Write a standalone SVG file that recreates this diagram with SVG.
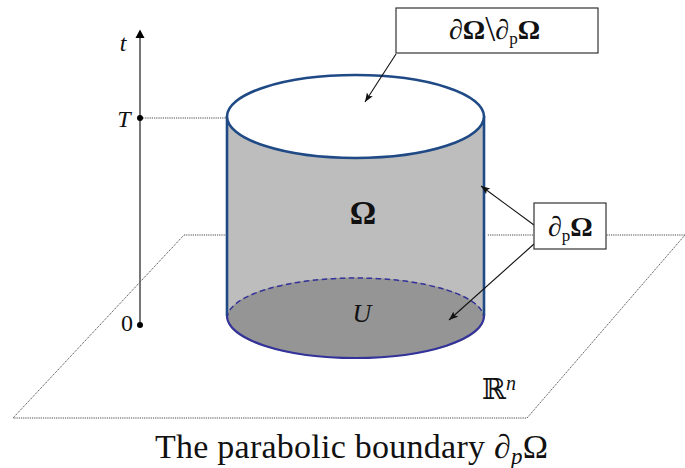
<svg xmlns="http://www.w3.org/2000/svg" width="685" height="468" viewBox="0 0 685 468">
<style>
text{font-family:"Liberation Serif","DejaVu Serif",serif;fill:#111}
.i{font-style:italic}
.dot{fill:none;stroke:#333;stroke-width:.9;stroke-dasharray:1.2 1}
.ar{fill:none;stroke:#111;stroke-width:1.100;marker-end:url(#a)}
.box{fill:#fff;stroke:#333;stroke-width:1.200}
</style>
<defs>
<marker id="a" markerUnits="userSpaceOnUse" markerWidth="10" markerHeight="8" refX="9" refY="3.500" orient="auto"><path d="M0 0L9 3.500L0 7L2 3.500Z" fill="#111"/></marker>
</defs>
<g id="plane"><path class="dot" d="M227 235H184L13 418H527L685 235H487"/></g>
<g id="cylinder">
<path d="M227 116V316A128.500 41 0 0 0 484 316V116Z" fill="#bdbdbd"/>
<ellipse cx="355.500" cy="318" rx="128.500" ry="40.500" fill="#959595"/>
<path d="M227 316V116M484 116V316" fill="none" stroke="#1f4a85" stroke-width="2.600"/>
<path d="M227 318.500A128.500 40.500 0 0 1 484 318.500" fill="none" stroke="#33339a" stroke-width="1.500" stroke-dasharray="5.500 3.500"/>
<path d="M227 316A128.500 42 0 0 0 484 316" fill="none" stroke="#33339a" stroke-width="2.200"/>
<ellipse cx="355.500" cy="116.500" rx="128.500" ry="41.500" fill="#fff" stroke="#1f4a85" stroke-width="2.600"/>
</g>
<g id="time-axis">
<path d="M140 36V325" stroke="#555" stroke-width="1.600" fill="none"/>
<path d="M140 29.500L144.500 38H135.500Z" fill="#000"/>
<circle cx="140" cy="118" r="3" fill="#000"/>
<circle cx="140" cy="325" r="3" fill="#000"/>
<path class="dot" d="M143 118H227"/>
<text class="i" x="123" y="51" font-size="24" text-anchor="middle">t</text>
<text class="i" x="124" y="127" font-size="24" text-anchor="middle">T</text>
<text x="127" y="331" font-size="24" text-anchor="middle">0</text>
</g>
<g id="connectors">
<path class="ar" d="M396 54L365 102"/>
<path class="ar" d="M534 225L481 186"/>
<path class="ar" d="M534 244L449 320"/>
</g>
<g id="top-label"><rect class="box" x="396" y="8" width="202" height="45"/>
<text x="449" y="39" font-size="28">∂<tspan font-weight="bold">Ω</tspan><tspan font-size="36" dy="2">\</tspan><tspan dy="-2">∂</tspan><tspan font-size="17" dy="5">p</tspan><tspan font-weight="bold" dy="-5">Ω</tspan></text></g>
<g id="side-label"><rect class="box" x="534" y="203" width="72" height="46"/>
<text x="548" y="236" font-size="28">∂<tspan font-size="17" dy="5">p</tspan><tspan font-weight="bold" dy="-5">Ω</tspan></text></g>
<g id="labels">
<text x="363" y="224" font-size="33" font-weight="bold" text-anchor="middle">Ω</text>
<text class="i" x="362" y="322" font-size="26" text-anchor="middle">U</text>
<text x="482" y="399" font-size="29" font-family="DejaVu Sans">ℝ<tspan class="i" font-size="20" dy="-9" font-family="Liberation Serif">n</tspan></text>
<text x="155" y="458" font-size="34" letter-spacing=".25">The parabolic boundary ∂<tspan class="i" font-size="23" dy="6">p</tspan><tspan dy="-6">Ω</tspan></text>
</g>
</svg>
